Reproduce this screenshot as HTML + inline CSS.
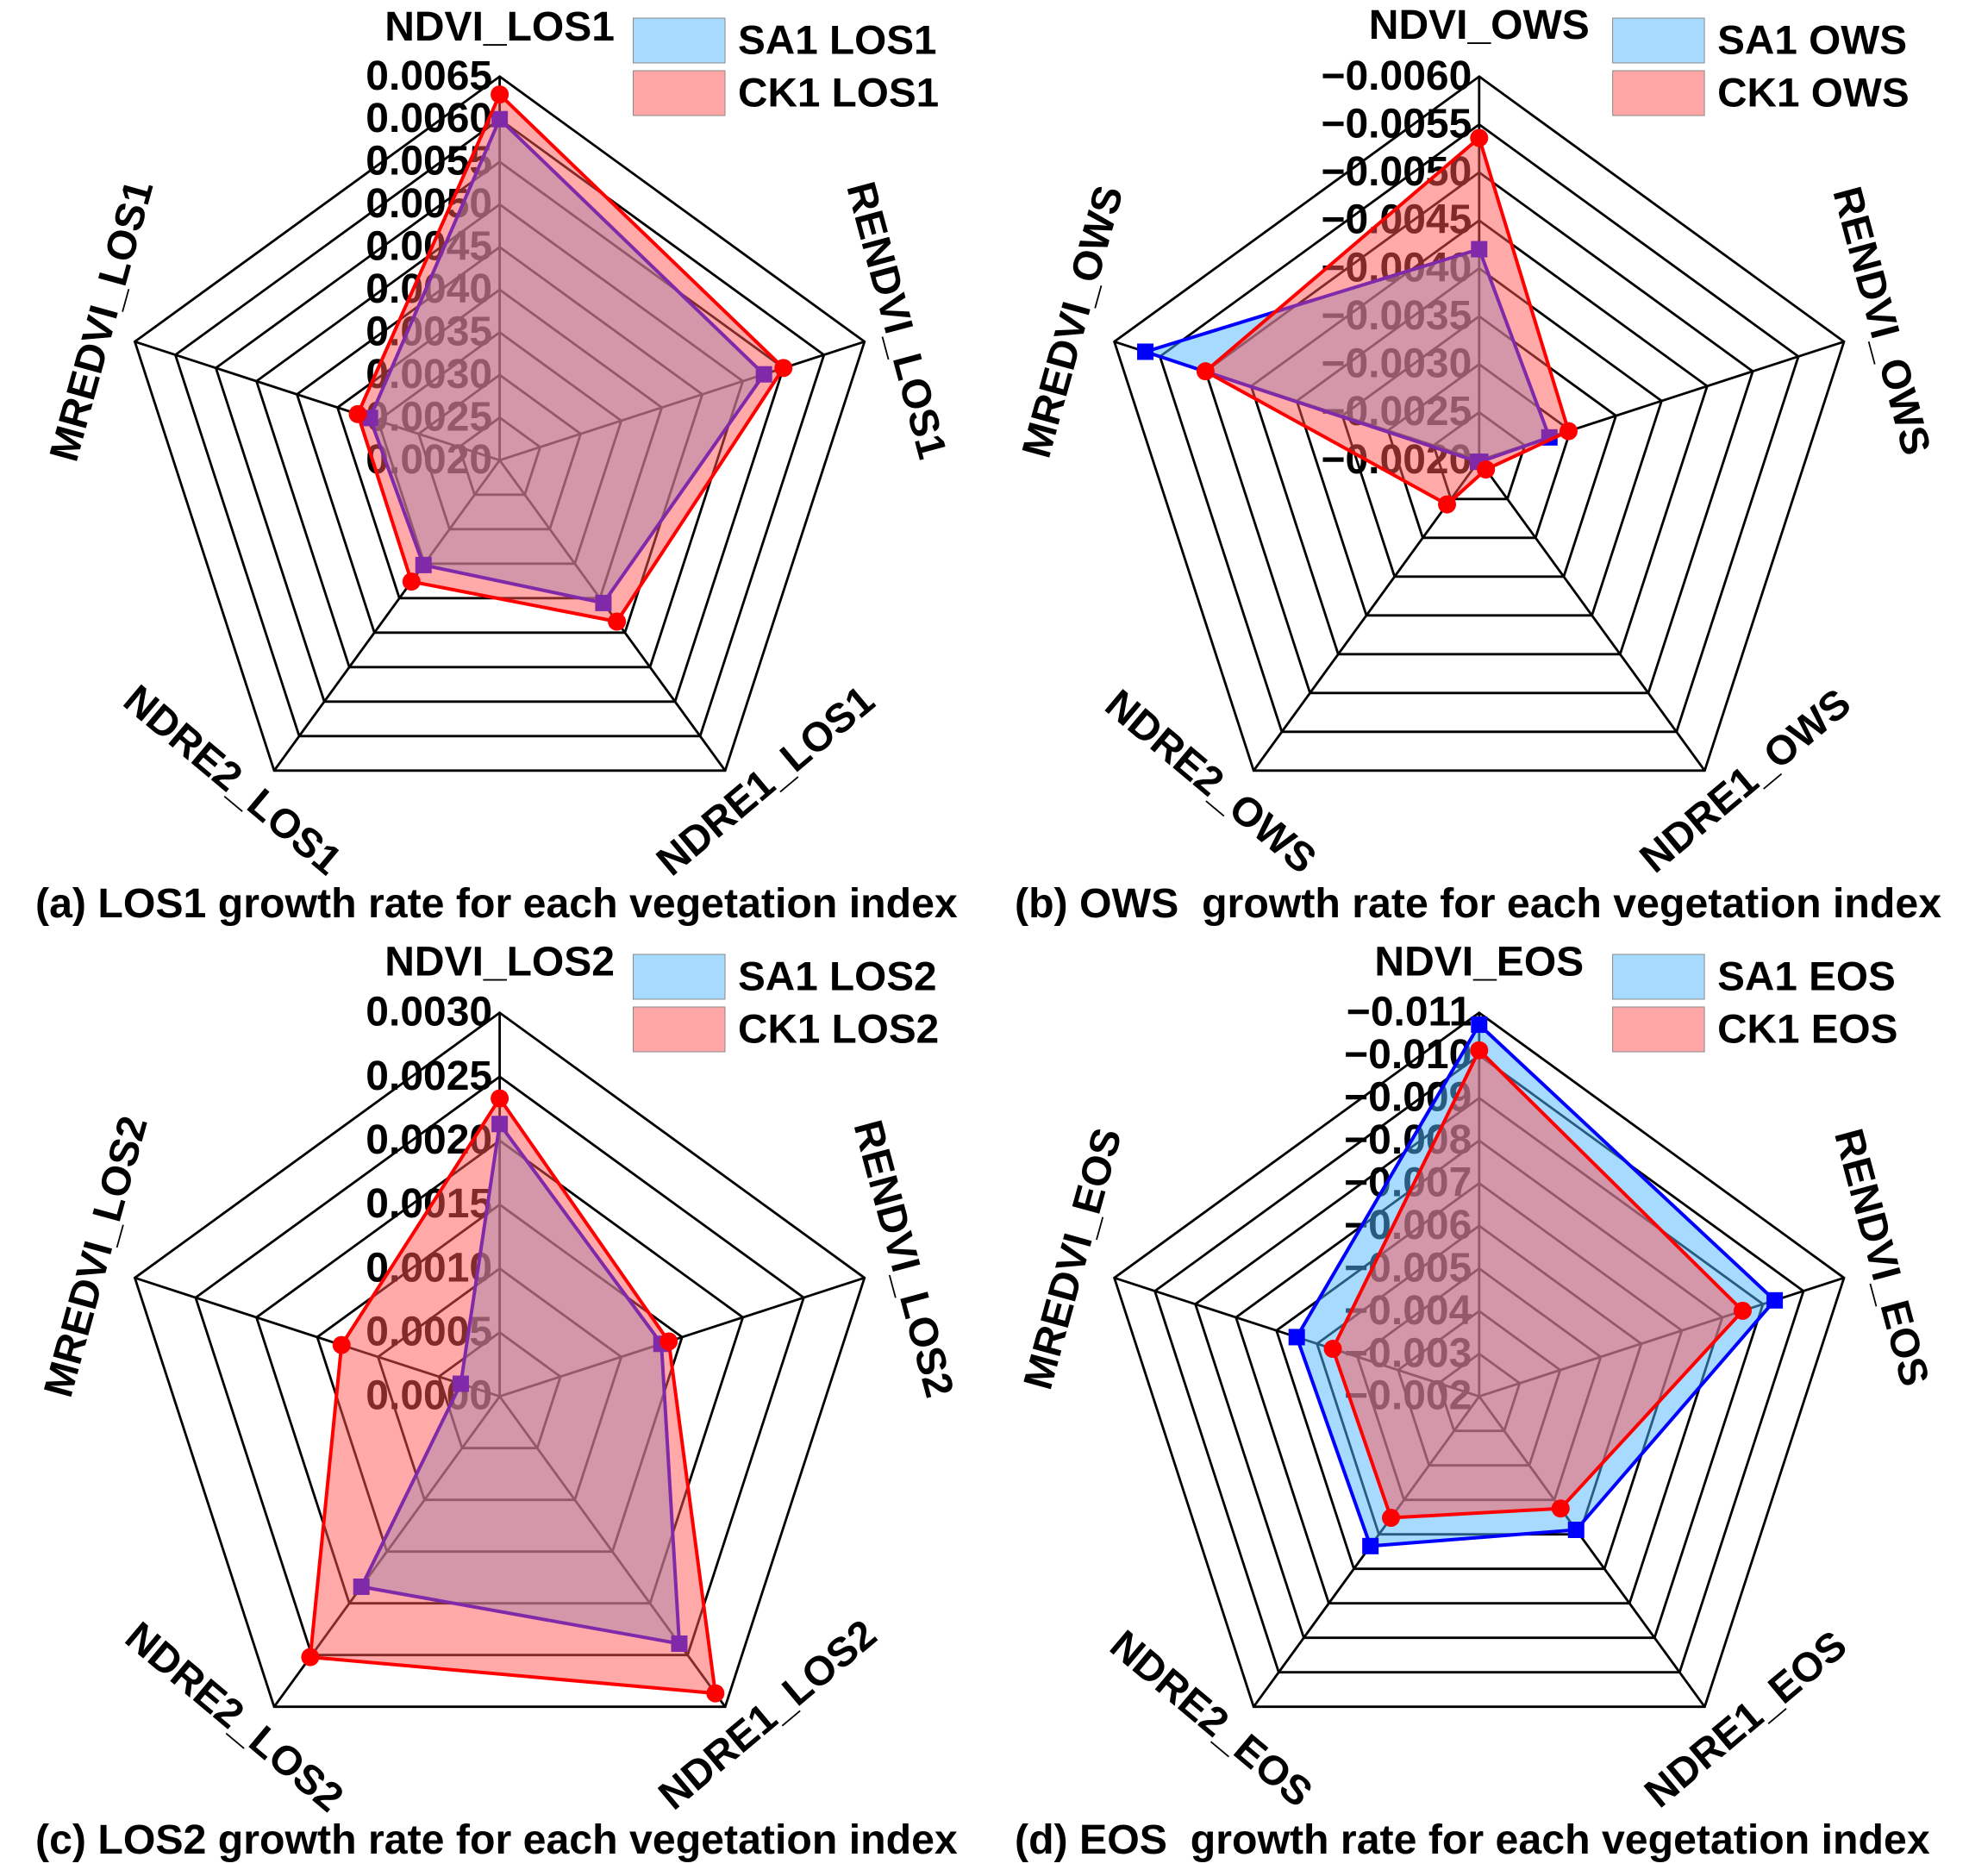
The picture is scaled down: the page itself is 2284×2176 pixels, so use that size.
<!DOCTYPE html>
<html lang="en">
<head>
<meta charset="utf-8">
<title>Growth rate radar charts</title>
<style>
html,body{margin:0;padding:0;background:#fff;}
svg{display:block;}
text{font-family:"Liberation Sans",Arial,sans-serif;font-weight:bold;font-size:48px;fill:#000;white-space:pre;}
</style>
</head>
<body>
<svg id="figure" xmlns="http://www.w3.org/2000/svg" width="2284" height="2176" viewBox="0 0 2284 2176">
<rect x="0" y="0" width="2284" height="2176" fill="#fff"/>
</svg>
<script>
const indices = ['NDVI', 'RENDVI', 'NDRE1', 'NDRE2', 'MREDVI'];

const ticksLos1 = [0.0020, 0.0025, 0.0030, 0.0035, 0.0040, 0.0045, 0.0050, 0.0055, 0.0060, 0.0065];
const sa1Los1 = [0.00600, 0.00526, 0.00407, 0.00352, 0.00360];
const ck1Los1 = [0.00629, 0.00550, 0.00434, 0.00376, 0.00375];

const ticksOws = [-0.0020, -0.0025, -0.0030, -0.0035, -0.0040, -0.0045, -0.0050, -0.0055, -0.0060];
const sa1Ows = [-0.00420, -0.00277, -0.00202, -0.00202, -0.00566];
const ck1Ows = [-0.00536, -0.00298, -0.00212, -0.00257, -0.00500];

const ticksLos2 = [0.0000, 0.0005, 0.0010, 0.0015, 0.0020, 0.0025, 0.0030];
const sa1Los2 = [0.00213, 0.00133, 0.00239, 0.00184, 0.00032];
const ck1Los2 = [0.00233, 0.00139, 0.00287, 0.00252, 0.00130];

const ticksEos = [-0.002, -0.003, -0.004, -0.005, -0.006, -0.007, -0.008, -0.009, -0.010, -0.011];
const sa1Eos = [-0.01072, -0.00929, -0.00587, -0.00634, -0.00650];
const ck1Eos = [-0.01012, -0.00850, -0.00525, -0.00552, -0.00561];

const NS = 'http://www.w3.org/2000/svg';
const fig = document.getElementById('figure');
const RADIUS = 445;

function make(parent, tag, attrs, txt) {
  const el = document.createElementNS(NS, tag);
  for (const k in attrs) el.setAttribute(k, attrs[k]);
  if (txt !== undefined) el.textContent = txt;
  parent.appendChild(el);
  return el;
}

function axisDir(i) {
  const a = i * 2 * Math.PI / 5;
  return [Math.sin(a), -Math.cos(a)];
}

function ptsString(points) {
  return points.map(p => p[0].toFixed(1) + ',' + p[1].toFixed(1)).join(' ');
}

function drawPanel(cfg) {
  const g = make(fig, 'g', {});
  
  

  const ticks = cfg.ticks;
  const lo = ticks[0], hi = ticks[ticks.length - 1];
  const radial = v => (v - lo) / (hi - lo) * RADIUS;
  const point = (i, v) => {
    const d = axisDir(i), r = radial(v);
    return [cfg.cx + d[0] * r, cfg.cy + d[1] * r];
  };

  // rings
  ticks.slice(1).forEach(t => {
    const ring = make(g, 'polygon', {
      points: ptsString(indices.map((_, i) => point(i, t))),
      fill: 'none', stroke: '#000', 'stroke-width': 2.8, 'stroke-linejoin': 'miter'
    });
    
    
  });
  // spokes
  indices.forEach((_, i) => {
    const e = point(i, hi);
    const spoke = make(g, 'line', {
      x1: cfg.cx, y1: cfg.cy, x2: e[0], y2: e[1], stroke: '#000', 'stroke-width': 2.8
    });
    
    
  });
  // tick labels
  ticks.forEach(t => {
    const label = t.toFixed(cfg.decimals).replace('-', '\u2212');
    const tl = make(g, 'text', {
      x: cfg.cx - 8.5, y: cfg.cy - radial(t) + 15, 'text-anchor': 'end'
    }, label);
    
    
  });
  // category labels
  const offsets = cfg.labelOffsets;
  const rotations = [0, 75, -40, 40, -74.5];
  const labelSizes = [48, 47.5, 47.5, 47.5, 47.5];
  indices.forEach((name, i) => {
    const x = cfg.cx + offsets[i][0], y = cfg.cy + offsets[i][1];
    const cl = make(g, 'text', {
      x: 0, y: 17, 'text-anchor': 'middle', style: 'font-size:' + labelSizes[i] + 'px',
      transform: 'translate(' + x + ' ' + y + ') rotate(' + rotations[i] + ')'
    }, name + '_' + cfg.suffix);
    
    
  });

  // SA1 series
  const saPts = cfg.sa1.map((v, i) => point(i, v));
  const saPoly = make(g, 'polygon', {
    points: ptsString(saPts), fill: '#4db7ff', 'fill-opacity': 0.5,
    stroke: '#0000ff', 'stroke-width': 4, 'stroke-linejoin': 'round'
  });
  
  
  saPts.forEach(p => {
    const m = make(g, 'rect', { x: p[0] - 9.5, y: p[1] - 9.5, width: 19, height: 19, fill: '#0000ff' });
    
    
  });

  // CK1 series
  const ckPts = cfg.ck1.map((v, i) => point(i, v));
  const ckFill = make(g, 'polygon', {
    points: ptsString(ckPts), fill: '#ff5454', 'fill-opacity': 0.5, stroke: 'none'
  });
  
  
  const ckLine = make(g, 'polygon', {
    points: ptsString(ckPts), fill: 'none', stroke: '#ff0000', 'stroke-width': 4, 'stroke-linejoin': 'round'
  });
  
  
  ckPts.forEach(p => {
    const m = make(g, 'circle', { cx: p[0], cy: p[1], r: 10.5, fill: '#ff0000' });
    
    
  });

  // legend
  const lg = make(g, 'g', {});
  
  
  const swatchA = make(lg, 'rect', {
    x: cfg.legendX, y: cfg.legendY, width: 106.5, height: 52, fill: '#a6dbff', stroke: '#8a8a8a', 'stroke-width': 1
  });
  
  
  const swatchB = make(lg, 'rect', {
    x: cfg.legendX, y: cfg.legendY + 61, width: 106.5, height: 52, fill: '#ffa6a6', stroke: '#8a8a8a', 'stroke-width': 1
  });
  
  
  const textA = make(lg, 'text', { x: cfg.legendX + 121.5, y: cfg.legendY + 41.5, style: 'font-size:47.7px' }, 'SA1 ' + cfg.suffix);
  
  
  const textB = make(lg, 'text', { x: cfg.legendX + 121.5, y: cfg.legendY + 102.5, style: 'font-size:47.7px' }, 'CK1 ' + cfg.suffix);
  
  

  // caption
  const cap = make(g, 'text', { x: cfg.titleX, y: cfg.titleY, style: 'font-size:48.25px' }, cfg.title);
  
  
}

drawPanel({
  key: 'los1', suffix: 'LOS1', ticks: ticksLos1, decimals: 4, sa1: sa1Los1, ck1: ck1Los1,
  cx: 579.6, cy: 533.8, legendX: 734.5, legendY: 21, titleX: 41, titleY: 1064,
  title: '(a) LOS1 growth rate for each vegetation index',
  labelOffsets: [[0, -504], [461.5, -162.5], [307.6, 371], [-309, 370], [-463, -162]]
});
drawPanel({
  key: 'ows', suffix: 'OWS', ticks: ticksOws, decimals: 4, sa1: sa1Ows, ck1: ck1Ows,
  cx: 1715.8, cy: 533.8, legendX: 1870.6, legendY: 21, titleX: 1177, titleY: 1064,
  title: '(b) OWS  growth rate for each vegetation index',
  labelOffsets: [[0, -506], [468, -162], [308, 371], [-310.6, 372], [-472.6, -161]]
});
drawPanel({
  key: 'los2', suffix: 'LOS2', ticks: ticksLos2, decimals: 4, sa1: sa1Los2, ck1: ck1Los2,
  cx: 579.6, cy: 1619.7, legendX: 734.5, legendY: 1107, titleX: 41, titleY: 2150,
  title: '(c) LOS2 growth rate for each vegetation index',
  labelOffsets: [[0, -505], [469.7, -160], [310, 368.4], [-307, 371], [-469.6, -162.5]]
});
drawPanel({
  key: 'eos', suffix: 'EOS', ticks: ticksEos, decimals: 3, sa1: sa1Eos, ck1: ck1Eos,
  cx: 1715.8, cy: 1619.7, legendX: 1870.6, legendY: 1107, titleX: 1177, titleY: 2150,
  title: '(d) EOS  growth rate for each vegetation index',
  labelOffsets: [[0, -505], [468, -161.5], [308.5, 373.5], [-310, 373], [-472.6, -160]]
});
</script>
</body>
</html>
